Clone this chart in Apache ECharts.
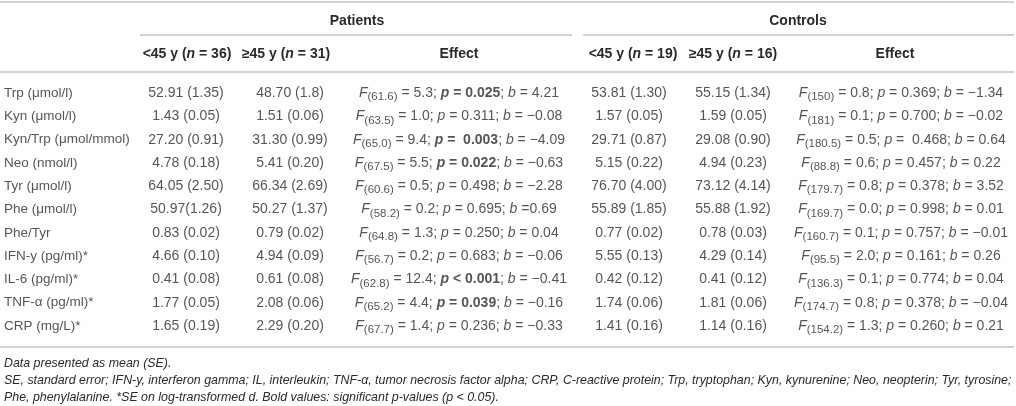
<!DOCTYPE html>
<html lang="en">
<head>
    <meta charset="UTF-8">
    <title>Patients vs Controls by age</title>
    <script src="https://cdn.jsdelivr.net/npm/echarts@6/dist/echarts.min.js"></script>
    <style>
        body {
            margin: 0;
            padding: 0;
            background: #fff;
        }
        #table {
            width: 1016px;
            height: 406px;
        }
    </style>
</head>
<body>
    <div id="table"></div>

    <script>
        // row labels
        const variables = ['Trp (\u03bcmol/l)', 'Kyn (\u03bcmol/l)', 'Kyn/Trp (\u03bcmol/mmol)', 'Neo (nmol/l)',
            'Tyr (\u03bcmol/l)', 'Phe (\u03bcmol/l)', 'Phe/Tyr', 'IFN-y (pg/ml)*', 'IL-6 (pg/ml)*',
            'TNF-\u03b1 (pg/ml)*', 'CRP (mg/L)*'];

        // mean (SE), as printed
        const patYoung = ['52.91 (1.35)', '1.43 (0.05)', '27.20 (0.91)', '4.78 (0.18)', '64.05 (2.50)',
            '50.97(1.26)', '0.83 (0.02)', '4.66 (0.10)', '0.41 (0.08)', '1.77 (0.05)', '1.65 (0.19)'];
        const patOld = ['48.70 (1.8)', '1.51 (0.06)', '31.30 (0.99)', '5.41 (0.20)', '66.34 (2.69)',
            '50.27 (1.37)', '0.79 (0.02)', '4.94 (0.09)', '0.61 (0.08)', '2.08 (0.06)', '2.29 (0.20)'];
        const conYoung = ['53.81 (1.30)', '1.57 (0.05)', '29.71 (0.87)', '5.15 (0.22)', '76.70 (4.00)',
            '55.89 (1.85)', '0.77 (0.02)', '5.55 (0.13)', '0.42 (0.12)', '1.74 (0.06)', '1.41 (0.16)'];
        const conOld = ['55.15 (1.34)', '1.59 (0.05)', '29.08 (0.90)', '4.94 (0.23)', '73.12 (4.14)',
            '55.88 (1.92)', '0.78 (0.03)', '4.29 (0.14)', '0.41 (0.12)', '1.81 (0.06)', '1.14 (0.16)'];

        // effects, patients
        const patDf = ['61.6', '63.5', '65.0', '67.5', '60.6', '58.2', '64.8', '56.7', '62.8', '65.2', '67.7'];
        const patF = ['5.3', '1.0', '9.4', '5.5', '0.5', '0.2', '1.3', '0.2', '12.4', '4.4', '1.4'];
        const patP = ['= 0.025', '= 0.311', '=  0.003', '= 0.022', '= 0.498', '= 0.695', '= 0.250',
            '= 0.683', '< 0.001', '= 0.039', '= 0.236'];
        const patB = ['= 4.21', '= \u22120.08', '= \u22124.09', '= \u22120.63', '= \u22122.28', '=0.69',
            '= 0.04', '= \u22120.06', '= \u22120.41', '= \u22120.16', '= \u22120.33'];
        const patSig = [true, false, true, true, false, false, false, false, true, true, false];

        // effects, controls
        const conDf = ['150', '181', '180.5', '88.8', '179.7', '169.7', '160.7', '95.5', '136.3', '174.7', '154.2'];
        const conF = ['0.8', '0.1', '0.5', '0.6', '0.8', '0.0', '0.1', '2.0', '0.1', '0.8', '1.3'];
        const conP = ['= 0.369', '= 0.700', '=  0.468', '= 0.457', '= 0.378', '= 0.998', '= 0.757',
            '= 0.161', '= 0.774', '= 0.378', '= 0.260'];
        const conB = ['= \u22121.34', '= \u22120.02', '= 0.64', '= 0.22', '= 3.52', '= 0.01', '= \u22120.01',
            '= 0.26', '= 0.04', '= \u22120.04', '= 0.21'];
        const conSig = [false, false, false, false, false, false, false, false, false, false, false];

        const FONT = '"Liberation Sans", Arial, Helvetica, sans-serif';
        const INK = '#2a2a2a';
        const RULE = '#c4c4c4';
        const FS = 14;

        function effectText(df, f, p, b, sig) {
            const pPart = sig ? '{pb|p}{vb| ' + p + '}' : '{pi|p}{n| ' + p + '}';
            return '{pi|F}{sub|(' + df + ')}{n| = ' + f + '; }' + pPart + '{n|; }{pi|b}{n| ' + b + '}';
        }

        const patEffect = variables.map((_, i) => effectText(patDf[i], patF[i], patP[i], patB[i], patSig[i]));
        const conEffect = variables.map((_, i) => effectText(conDf[i], conF[i], conP[i], conB[i], conSig[i]));

        const richStyles = {
            n: { fontFamily: FONT, fontSize: FS, color: INK },
            pi: { fontFamily: FONT, fontSize: FS, color: INK, fontStyle: 'italic' },
            pb: { fontFamily: FONT, fontSize: FS, color: INK, fontStyle: 'italic', fontWeight: 'bold' },
            vb: { fontFamily: FONT, fontSize: FS, color: INK, fontWeight: 'bold' },
            sub: { fontFamily: FONT, fontSize: 11.5, color: INK, padding: [8, 0, 0, 0] }
        };

        // column centres (x in px) and text for each column
        const columns = [
            { x: 4, cells: variables, align: 'left', size: 13.5 },
            { x: 186, cells: patYoung },
            { x: 290, cells: patOld },
            { x: 459, cells: patEffect, rich: true },
            { x: 629, cells: conYoung },
            { x: 733, cells: conOld },
            { x: 901, cells: conEffect, rich: true }
        ];

        function columnSeries(col) {
            return {
                type: 'scatter',
                symbolSize: 0,
                silent: true,
                itemStyle: { color: 'transparent' },
                data: col.cells.map((_, i) => [col.x, i]),
                label: {
                    show: true,
                    position: 'inside',
                    align: col.align || 'center',
                    verticalAlign: 'middle',
                    fontFamily: FONT,
                    fontSize: col.size || FS,
                    color: INK,
                    formatter: p => col.cells[p.dataIndex],
                    rich: col.rich ? richStyles : undefined
                }
            };
        }

        function hRule(x1, x2, y) {
            return {
                type: 'line',
                shape: { x1: x1, y1: y, x2: x2, y2: y },
                style: { stroke: RULE, lineWidth: 1.5 },
                silent: true
            };
        }

        function headText(x, y, rich) {
            return {
                type: 'text',
                x: x, y: y,
                style: {
                    text: rich,
                    align: 'center',
                    verticalAlign: 'middle',
                    font: 'bold 14px ' + FONT,
                    fill: INK,
                    rich: {
                        h: { fontFamily: FONT, fontSize: 14, fontWeight: 'bold', color: INK },
                        hi: { fontFamily: FONT, fontSize: 14, fontWeight: 'bold', fontStyle: 'italic', color: INK }
                    }
                },
                silent: true
            };
        }

        function noteText(y, txt) {
            return {
                type: 'text',
                x: 4, y: y,
                style: {
                    text: txt,
                    align: 'left',
                    verticalAlign: 'middle',
                    font: 'italic 12.4px ' + FONT,
                    fill: INK
                },
                silent: true
            };
        }

        const chart = echarts.init(document.getElementById('table'));

        chart.setOption({
            animation: false,
            grid: { left: 0, right: 0, top: 81.4, height: 256.3, containLabel: false },
            xAxis: { type: 'value', min: 0, max: 1016, show: false },
            yAxis: { type: 'category', data: variables, inverse: true, show: false },
            series: columns.map(columnSeries),
            graphic: [
                hRule(0, 1014, 2),
                hRule(140, 572, 35),
                hRule(583, 1014, 35),
                hRule(0, 1014, 72),
                hRule(0, 1014, 347),
                headText(357, 21, '{h|Patients}'),
                headText(798, 21, '{h|Controls}'),
                headText(187, 54, '{h|<45 y (}{hi|n}{h| = 36)}'),
                headText(286, 54, '{h|\u226545 y (}{hi|n}{h| = 31)}'),
                headText(459, 54, '{h|Effect}'),
                headText(633, 54, '{h|<45 y (}{hi|n}{h| = 19)}'),
                headText(733, 54, '{h|\u226545 y (}{hi|n}{h| = 16)}'),
                headText(895, 54, '{h|Effect}'),
                noteText(364, 'Data presented as mean (SE).'),
                noteText(381, 'SE, standard error; IFN-y, interferon gamma; IL, interleukin; TNF-\u03b1, tumor necrosis factor alpha; CRP, C-reactive protein; Trp, tryptophan; Kyn, kynurenine; Neo, neopterin; Tyr, tyrosine;'),
                noteText(398, 'Phe, phenylalanine. *SE on log-transformed d. Bold values: significant p-values (p < 0.05).')
            ]
        });
    </script>
</body>
</html>
